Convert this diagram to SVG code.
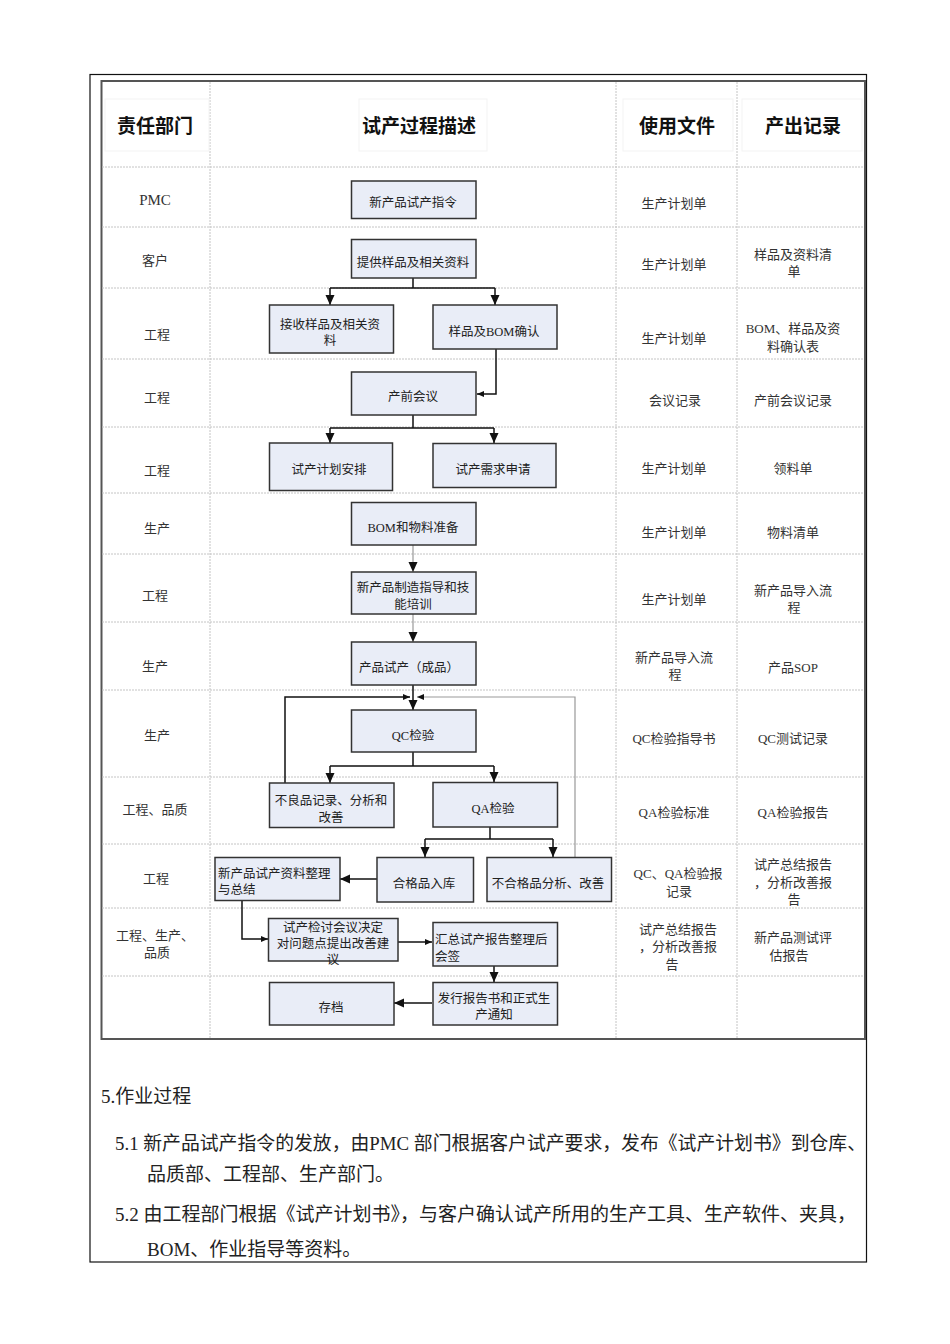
<svg xmlns="http://www.w3.org/2000/svg" width="950" height="1344" viewBox="0 0 950 1344">
<style>
text{font-family:"Liberation Serif","Noto Sans CJK SC",serif;fill:#333;}
.hd{font-family:"Noto Sans CJK SC","Liberation Sans",sans-serif;font-size:19px;font-weight:bold;fill:#111;text-anchor:middle;dominant-baseline:central;}
.cell{font-size:13px;text-anchor:middle;dominant-baseline:central;}
.big{font-size:15px;}
.bx{fill:#e9edf7;stroke:#333;stroke-width:1.5;}
.bt{font-size:12.5px;text-anchor:middle;dominant-baseline:central;fill:#222;}
.btl{font-size:12.5px;text-anchor:start;dominant-baseline:central;fill:#222;}
.grid{stroke:#c4c4c4;stroke-width:1;stroke-dasharray:2 1;fill:none;}
.frm{fill:none;stroke:#f3f3f3;stroke-width:1;}
.cn{fill:none;stroke:#111;stroke-width:1.5;}
.cg{fill:none;stroke:#999;stroke-width:1.2;}
.body{font-size:19px;fill:#222;dominant-baseline:central;}
</style>
<defs>
<marker id="ar" markerUnits="userSpaceOnUse" markerWidth="10" markerHeight="12" refX="10" refY="4.5" orient="auto">
<path d="M0,0 L10,4.5 L0,9 z" fill="#111"/>
</marker>
<marker id="as" markerUnits="userSpaceOnUse" markerWidth="8" markerHeight="8" refX="7" refY="3" orient="auto">
<path d="M0,0 L7,3 L0,6 z" fill="#111"/>
</marker>
</defs>
<rect width="950" height="1344" fill="#fff"/>
<g id="frame">
<rect x="90" y="74.5" width="776.5" height="1187.5" fill="none" stroke="#111" stroke-width="1.2"/>
<rect x="101.5" y="81" width="763.5" height="958" fill="none" stroke="#555" stroke-width="2"/>
</g>
<g id="grid">
<path class="grid" d="M210,82 V1038 M616,82 V1038 M737,82 V1038"/>
<path class="grid" d="M102,167 H864 M102,227 H864 M102,288 H864 M102,359 H864 M102,427 H864 M102,493 H864 M102,554 H864 M102,622 H864 M102,690 H864 M102,777 H864 M102,844 H864 M102,908 H864 M102,976 H864"/>
</g>
<g id="headers">
<rect class="frm" x="105" y="99" width="104" height="52"/>
<rect class="frm" x="359" y="99" width="128" height="52"/>
<rect class="frm" x="623" y="99" width="110" height="52"/>
<rect class="frm" x="742" y="99" width="120" height="52"/>
<text class="hd" x="155" y="124">责任部门</text>
<text class="hd" x="419" y="124">试产过程描述</text>
<text class="hd" x="677" y="124">使用文件</text>
<text class="hd" x="803" y="124">产出记录</text>
</g>
<g id="dept">
<text class="cell big" x="155" y="200">PMC</text>
<text class="cell" x="155" y="260">客户</text>
<text class="cell" x="157" y="334">工程</text>
<text class="cell" x="157" y="397">工程</text>
<text class="cell" x="157" y="470">工程</text>
<text class="cell" x="157" y="528">生产</text>
<text class="cell" x="155" y="595">工程</text>
<text class="cell" x="155" y="666">生产</text>
<text class="cell" x="157" y="735">生产</text>
<text class="cell" x="155" y="809">工程、品质</text>
<text class="cell" x="156" y="878">工程</text>
<text class="cell" x="155" y="935">工程、生产、</text>
<text class="cell" x="157" y="952">品质</text>
</g>
<g id="docs">
<text class="cell" x="674" y="203">生产计划单</text>
<text class="cell" x="674" y="264">生产计划单</text>
<text class="cell" x="674" y="338">生产计划单</text>
<text class="cell" x="675" y="400">会议记录</text>
<text class="cell" x="674" y="468">生产计划单</text>
<text class="cell" x="674" y="532">生产计划单</text>
<text class="cell" x="674" y="599">生产计划单</text>
<text class="cell" x="674" y="657">新产品导入流</text>
<text class="cell" x="675" y="674">程</text>
<text class="cell" x="674" y="738">QC检验指导书</text>
<text class="cell" x="674" y="812">QA检验标准</text>
<text class="cell" x="678" y="873">QC、QA检验报</text>
<text class="cell" x="679" y="891">记录</text>
<text class="cell" x="678" y="929">试产总结报告</text>
<text class="cell" x="678" y="946">，分析改善报</text>
<text class="cell" x="672" y="964">告</text>
</g>
<g id="records">
<text class="cell" x="793" y="254">样品及资料清</text>
<text class="cell" x="794" y="271">单</text>
<text class="cell" x="793" y="328">BOM、样品及资</text>
<text class="cell" x="793" y="346">料确认表</text>
<text class="cell" x="793" y="400">产前会议记录</text>
<text class="cell" x="793" y="468">领料单</text>
<text class="cell" x="793" y="532">物料清单</text>
<text class="cell" x="793" y="590">新产品导入流</text>
<text class="cell" x="794" y="607">程</text>
<text class="cell" x="793" y="667">产品SOP</text>
<text class="cell" x="793" y="738">QC测试记录</text>
<text class="cell" x="793" y="812">QA检验报告</text>
<text class="cell" x="793" y="864">试产总结报告</text>
<text class="cell" x="793" y="882">，分析改善报</text>
<text class="cell" x="794" y="899">告</text>
<text class="cell" x="793" y="937">新产品测试评</text>
<text class="cell" x="789" y="955">估报告</text>
</g>
<g id="connectors">
<path class="cn" d="M413,278 V288 M330,288 H495"/>
<path class="cn" d="M330,288 V305" marker-end="url(#ar)"/>
<path class="cn" d="M495,288 V305" marker-end="url(#ar)"/>
<path class="cn" d="M496,349 V394 H477" marker-end="url(#as)"/>
<path class="cn" d="M413,415 V428 M330,428 H494"/>
<path class="cn" d="M330,428 V443" marker-end="url(#ar)"/>
<path class="cn" d="M494,428 V443" marker-end="url(#ar)"/>
<path class="cg" d="M413,545 V572" marker-end="url(#ar)"/>
<path class="cg" d="M413,614 V642" marker-end="url(#ar)"/>
<path class="cn" d="M413,685 V710" stroke-width="2" marker-end="url(#ar)"/>
<path class="cn" d="M285,783 V697 H410" marker-end="url(#as)"/>
<path class="cg" d="M575,857 V697 H417" marker-end="url(#as)"/>
<path class="cn" d="M413,752 V766 M330,766 H494"/>
<path class="cn" d="M330,766 V783" marker-end="url(#ar)"/>
<path class="cn" d="M494,766 V782" marker-end="url(#ar)"/>
<path class="cn" d="M490,827 V839 M425,839 H553"/>
<path class="cn" d="M425,839 V857" marker-end="url(#ar)"/>
<path class="cn" d="M553,839 V857" marker-end="url(#ar)"/>
<path class="cn" d="M377,879 H340" stroke-width="2" marker-end="url(#ar)"/>
<path class="cn" d="M242,901 V939 H268" stroke-width="2" marker-end="url(#as)"/>
<path class="cn" d="M398,942 H432" stroke-width="2" marker-end="url(#as)"/>
<path class="cn" d="M494,966 V982" stroke-width="2" marker-end="url(#ar)"/>
<path class="cn" d="M432,1003 H394" stroke-width="2" marker-end="url(#ar)"/>
</g>
<g id="n1"><rect class="bx" x="351.5" y="181" width="124.5" height="37.5"/><text class="bt" x="413" y="203">新产品试产指令</text></g>
<g id="n2"><rect class="bx" x="351.5" y="239.5" width="124.5" height="38.5"/><text class="bt" x="413" y="263">提供样品及相关资料</text></g>
<g id="n3"><rect class="bx" x="269.5" y="305" width="124" height="48"/><text class="bt" x="330" y="325">接收样品及相关资</text><text class="bt" x="330" y="341">料</text></g>
<g id="n4"><rect class="bx" x="433" y="305" width="124" height="44"/><text class="bt" x="494" y="332">样品及BOM确认</text></g>
<g id="n5"><rect class="bx" x="351.5" y="372" width="124.5" height="43"/><text class="bt" x="413" y="397">产前会议</text></g>
<g id="n6"><rect class="bx" x="269.5" y="443" width="123" height="47.5"/><text class="bt" x="329" y="470">试产计划安排</text></g>
<g id="n7"><rect class="bx" x="433" y="443.5" width="123" height="44"/><text class="bt" x="493" y="470">试产需求申请</text></g>
<g id="n8"><rect class="bx" x="351.5" y="502.5" width="124.5" height="42.5"/><text class="bt" x="413" y="528">BOM和物料准备</text></g>
<g id="n9"><rect class="bx" x="351.5" y="572" width="124.5" height="42"/><text class="bt" x="413" y="588">新产品制造指导和技</text><text class="bt" x="413" y="605">能培训</text></g>
<g id="n10"><rect class="bx" x="351.5" y="642" width="124.5" height="43"/><text class="bt" x="409" y="668">产品试产（成品）</text></g>
<g id="n11"><rect class="bx" x="351.5" y="710" width="124.5" height="42"/><text class="bt" x="413" y="736">QC检验</text></g>
<g id="n12"><rect class="bx" x="269.5" y="783" width="124.5" height="44.5"/><text class="bt" x="331" y="801">不良品记录、分析和</text><text class="bt" x="331" y="818">改善</text></g>
<g id="n13"><rect class="bx" x="433" y="782.5" width="124.5" height="44.5"/><text class="bt" x="493" y="809">QA检验</text></g>
<g id="n14"><rect class="bx" x="215" y="857.5" width="125" height="43"/><text class="btl" x="218" y="874">新产品试产资料整理</text><text class="btl" x="218" y="890">与总结</text></g>
<g id="n15"><rect class="bx" x="377" y="857.5" width="96.5" height="44.5"/><text class="bt" x="424" y="884">合格品入库</text></g>
<g id="n16"><rect class="bx" x="487" y="857.5" width="124.5" height="44"/><text class="bt" x="548" y="884">不合格品分析、改善</text></g>
<g id="n17"><rect class="bx" x="268.5" y="918.5" width="129.5" height="42.5"/><text class="bt" x="333" y="928">试产检讨会议决定</text><text class="bt" x="333" y="944">对问题点提出改善建</text><text class="bt" x="333" y="960">议</text></g>
<g id="n18"><rect class="bx" x="433" y="922.5" width="124.5" height="43.5"/><text class="btl" x="435" y="940">汇总试产报告整理后</text><text class="btl" x="435" y="957">会签</text></g>
<g id="n19"><rect class="bx" x="269.5" y="982.5" width="124.5" height="42.5"/><text class="bt" x="331" y="1008">存档</text></g>
<g id="n20"><rect class="bx" x="433" y="982.5" width="124.5" height="42.5"/><text class="bt" x="494" y="999">发行报告书和正式生</text><text class="bt" x="494" y="1015">产通知</text></g>
<g id="bodytext">
<text class="body" x="101" y="1096">5.作业过程</text>
<text class="body" x="115" y="1143" textLength="751" lengthAdjust="spacingAndGlyphs">5.1 新产品试产指令的发放，由PMC 部门根据客户试产要求，发布《试产计划书》到仓库、</text>
<text class="body" x="147" y="1174">品质部、工程部、生产部门。</text>
<text class="body" x="115" y="1214" textLength="741" lengthAdjust="spacingAndGlyphs">5.2 由工程部门根据《试产计划书》，与客户确认试产所用的生产工具、生产软件、夹具，</text>
<text class="body" x="147" y="1249">BOM、作业指导等资料。</text>
</g>
</svg>
